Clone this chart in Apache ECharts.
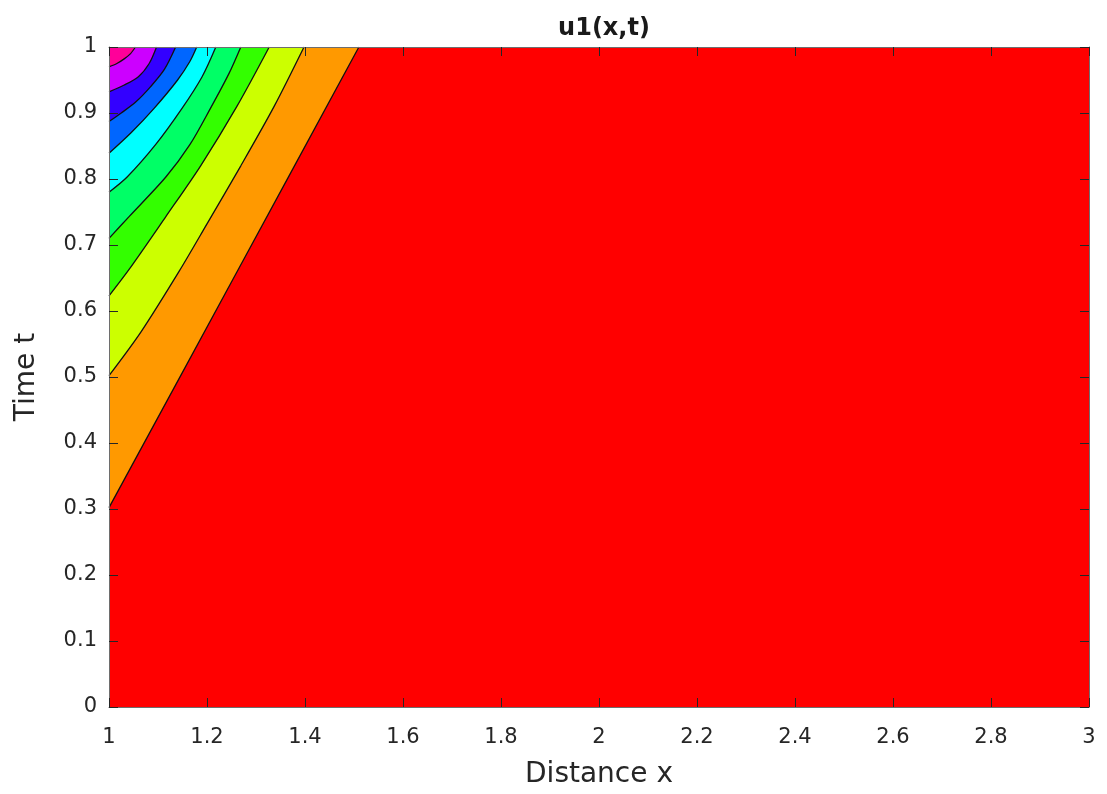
<!DOCTYPE html>
<html>
<head>
<meta charset="utf-8">
<title>u1(x,t)</title>
<script src="https://cdn.jsdelivr.net/npm/echarts@6/dist/echarts.min.js"></script>
<style>
    html, body {margin: 0; padding: 0; background: #fff;}
    #main {width: 1107px; height: 794px;}
</style>
</head>
<body>
<div id="main"></div>
<script>
// axis ranges and tick labels
var xRange = [1, 3];
var tRange = [0, 1];
var xTickLabels = ['1', '1.2', '1.4', '1.6', '1.8', '2', '2.2', '2.4', '2.6', '2.8', '3'];
var tTickLabels = ['0', '0.1', '0.2', '0.3', '0.4', '0.5', '0.6', '0.7', '0.8', '0.9', '1'];

// bottom edge of the domain (lowest band fills everything above it)
var domainEdge = [[1, 0], [3, 0]];

// contour lines [x, t], from the left edge to the top edge
// line1 = orange/red ... line9 = magenta/purple
var line1 = [[1, 0.302], [1.261, 0.659], [1.51, 1]];
var line2 = [[1, 0.502], [1.065, 0.568], [1.143, 0.66], [1.2, 0.732], [1.269, 0.82], [1.337, 0.91], [1.398, 1]];
var line3 = [[1, 0.623], [1.041, 0.663], [1.116, 0.743], [1.187, 0.82], [1.261, 0.91], [1.327, 1]];
var line4 = [[1, 0.71], [1.041, 0.743], [1.116, 0.803], [1.165, 0.852], [1.207, 0.907], [1.245, 0.96], [1.269, 1]];
var line5 = [[1, 0.78], [1.037, 0.803], [1.095, 0.852], [1.149, 0.907], [1.19, 0.955], [1.218, 1]];
var line6 = [[1, 0.839], [1.045, 0.87], [1.092, 0.907], [1.14, 0.95], [1.165, 0.978], [1.179, 1]];
var line7 = [[1, 0.887], [1.025, 0.9], [1.055, 0.917], [1.085, 0.94], [1.113, 0.966], [1.136, 1]];
var line8 = [[1, 0.932], [1.03, 0.942], [1.06, 0.955], [1.082, 0.975], [1.097, 1]];
var line9 = [[1, 0.97], [1.016, 0.975], [1.031, 0.982], [1.044, 0.99], [1.054, 1]];

var contours = [line1, line2, line3, line4, line5, line6, line7, line8, line9];

// band colours, lowest (red) to highest (magenta)
var bandColors = ['#ff0000', '#ff9900', '#ccff00', '#33ff00', '#00ff66',
    '#00ffff', '#0066ff', '#3300ff', '#cc00ff', '#ff0099'];

var textColor = '#262626';
var fontName = 'DejaVu Sans';

var chartDom = document.getElementById('main');
var myChart = echarts.init(chartDom, null, {renderer: 'canvas'});
var option;

function sideAxis(pos, isX) {
    return {
        type: 'value',
        position: pos,
        min: isX ? xRange[0] : tRange[0],
        max: isX ? xRange[1] : tRange[1],
        interval: isX ? 0.2 : 0.1,
        z: 10,
        axisLine: {show: true, onZero: false, lineStyle: {color: '#6e6e6e', width: 1}},
        axisTick: {show: true, inside: true, length: 9, lineStyle: {color: textColor, width: 1}},
        axisLabel: {show: false},
        splitLine: {show: false}
    };
}

// every band is filled from its contour up to t = 1 (areaStyle origin 'end'),
// later bands are drawn on top of earlier ones
var series = [{
    name: 'band0',
    type: 'line',
    data: domainEdge,
    showSymbol: false,
    silent: true,
    z: 2,
    lineStyle: {width: 0},
    areaStyle: {origin: 'end', color: bandColors[0], opacity: 1}
}];

contours.forEach(function (c, i) {
    series.push({
        name: 'band' + (i + 1),
        type: 'line',
        data: c,
        showSymbol: false,
        silent: true,
        smooth: 0.3,
        z: 2,
        lineStyle: {color: '#111111', width: 1.3},
        areaStyle: {origin: 'end', color: bandColors[i + 1], opacity: 1}
    });
});

option = {
    animation: false,
    backgroundColor: '#ffffff',
    title: {
        text: 'u1(x,t)',
        left: 599,
        top: 12,
        textAlign: 'center',
        textStyle: {fontFamily: fontName, fontSize: 24, fontWeight: 'bold', color: '#1a1a1a'}
    },
    grid: {left: 109, right: 18, top: 47, bottom: 86, containLabel: false},
    xAxis: [{
        type: 'value',
        position: 'bottom',
        min: xRange[0],
        max: xRange[1],
        interval: 0.2,
        z: 10,
        name: 'Distance x',
        nameLocation: 'middle',
        nameGap: 54,
        nameTextStyle: {fontFamily: fontName, fontSize: 28, color: textColor},
        axisLine: {show: true, onZero: false, lineStyle: {color: '#6e6e6e', width: 1}},
        axisTick: {show: true, inside: true, length: 9, lineStyle: {color: textColor, width: 1}},
        axisLabel: {
            margin: 20, fontFamily: fontName, fontSize: 21, color: textColor,
            formatter: function (v, i) { return xTickLabels[i]; }
        },
        splitLine: {show: false}
    }, sideAxis('top', true)],
    yAxis: [{
        type: 'value',
        position: 'left',
        min: tRange[0],
        max: tRange[1],
        interval: 0.1,
        z: 10,
        name: 'Time t',
        nameLocation: 'middle',
        nameGap: 68,
        nameTextStyle: {fontFamily: fontName, fontSize: 28, color: textColor},
        axisLine: {show: true, onZero: false, lineStyle: {color: '#6e6e6e', width: 1}},
        axisTick: {show: true, inside: true, length: 9, lineStyle: {color: textColor, width: 1}},
        axisLabel: {
            margin: 12, fontFamily: fontName, fontSize: 21, color: textColor,
            formatter: function (v, i) { return tTickLabels[i]; }
        },
        splitLine: {show: false}
    }, sideAxis('right', false)],
    series: series
};

option && myChart.setOption(option);
</script>
</body>
</html>
